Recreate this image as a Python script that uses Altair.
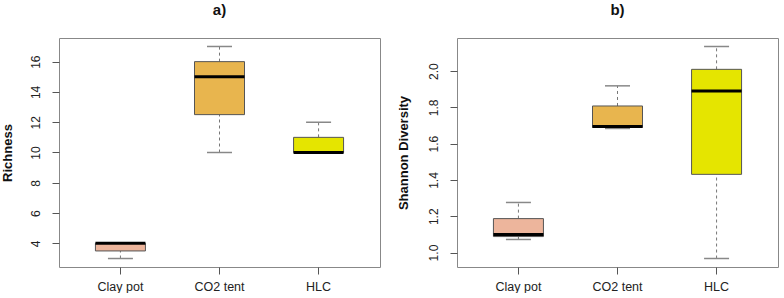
import altair as alt
import pandas as pd

# Treatment groups and their fill colours
groups = ["Clay pot", "CO2 tent", "HLC"]
fills = ["#EDB59C", "#E8B54E", "#E5E500"]

# Five-number summaries for species richness
rich_lo = [3, 10, 10]
rich_q1 = [3.5, 12.5, 10]
rich_med = [4, 15, 10]
rich_q3 = [4, 16, 11]
rich_hi = [4, 17, 12]

# Five-number summaries for Shannon diversity
shan_lo = [1.072, 1.684, 0.967]
shan_q1 = [1.088, 1.690, 1.431]
shan_med = [1.099, 1.695, 1.891]
shan_q3 = [1.187, 1.808, 2.010]
shan_hi = [1.276, 1.919, 2.136]

rich_ticks = [4, 6, 8, 10, 12, 14, 16]
shan_ticks = [1.0, 1.2, 1.4, 1.6, 1.8, 2.0]

FONT = "Liberation Sans"
PANEL_W, PANEL_H = 321, 229


def summary(lo, q1, med, q3, hi):
    return pd.DataFrame({"group": groups, "lo": lo, "q1": q1,
                         "med": med, "q3": q3, "hi": hi})


def boxplot(df, title, ytitle, ticks, fmt, title_pad):
    span = max(df["hi"]) - min(df["lo"])
    domain = [min(df["lo"]) - 0.04 * span, max(df["hi"]) + 0.04 * span]
    x = alt.X("group:N", sort=groups, title=None,
              scale=alt.Scale(paddingInner=0, paddingOuter=0.12),
              axis=alt.Axis(labelAngle=0, domain=False, tickSize=7,
                            tickColor="#555", labelPadding=6,
                            labelFontSize=12.5, labelColor="#222",
                            labelFont=FONT))
    yscale = alt.Scale(domain=domain, nice=False, zero=False)
    yaxis = alt.Axis(values=ticks, format=fmt, domain=False, grid=False,
                     tickSize=7, tickColor="#555", labelAngle=270,
                     labelAlign="center", labelBaseline="middle",
                     labelPadding=17, labelOverlap=False,
                     labelFontSize=12, labelColor="#222",
                     labelFont=FONT, title=ytitle, titleFont=FONT,
                     titleFontSize=13, titleFontWeight="bold",
                     titleColor="#111", titlePadding=title_pad)
    y_enc = lambda field: alt.Y(field, scale=yscale, axis=yaxis)
    base = alt.Chart(df).encode(x=x)
    whisk_lo = base.mark_rule(color="#777", strokeDash=[3, 3]).encode(
        y=y_enc("lo:Q"), y2="q1:Q")
    whisk_hi = base.mark_rule(color="#777", strokeDash=[3, 3]).encode(
        y=y_enc("q3:Q"), y2="hi:Q")
    cap_lo = base.mark_tick(size=25, thickness=1.5, color="#888",
                            opacity=1).encode(y=y_enc("lo:Q"))
    cap_hi = base.mark_tick(size=25, thickness=1.5, color="#888",
                            opacity=1).encode(y=y_enc("hi:Q"))
    box = base.mark_bar(size=50, stroke="#555", strokeWidth=1,
                        opacity=1).encode(
        y=y_enc("q1:Q"), y2="q3:Q",
        color=alt.Color("group:N", scale=alt.Scale(domain=groups, range=fills),
                        legend=None))
    median = base.mark_tick(size=50, thickness=3, color="black",
                            opacity=1).encode(y=y_enc("med:Q"))
    return alt.layer(whisk_lo, whisk_hi, cap_lo, cap_hi, box, median).properties(
        width=PANEL_W, height=PANEL_H,
        title=alt.TitleParams(title, fontSize=15, fontWeight="bold", font=FONT,
                              color="#111", anchor="middle", offset=20))


left = boxplot(summary(rich_lo, rich_q1, rich_med, rich_q3, rich_hi),
               "a)", "Richness", rich_ticks, "d", 15)
right = boxplot(summary(shan_lo, shan_q1, shan_med, shan_q3, shan_hi),
                "b)", "Shannon Diversity", shan_ticks, ".1f", 17)

chart = alt.hconcat(left, right, spacing=15).properties(
    padding={"left": 0, "top": 2, "right": 0, "bottom": 0},
    background="white",
).configure_view(
    stroke="#888", strokeWidth=1
).configure_axisY(labelOverlap=False)

chart.save("out.html", embed_options={"renderer": "svg", "actions": False})
